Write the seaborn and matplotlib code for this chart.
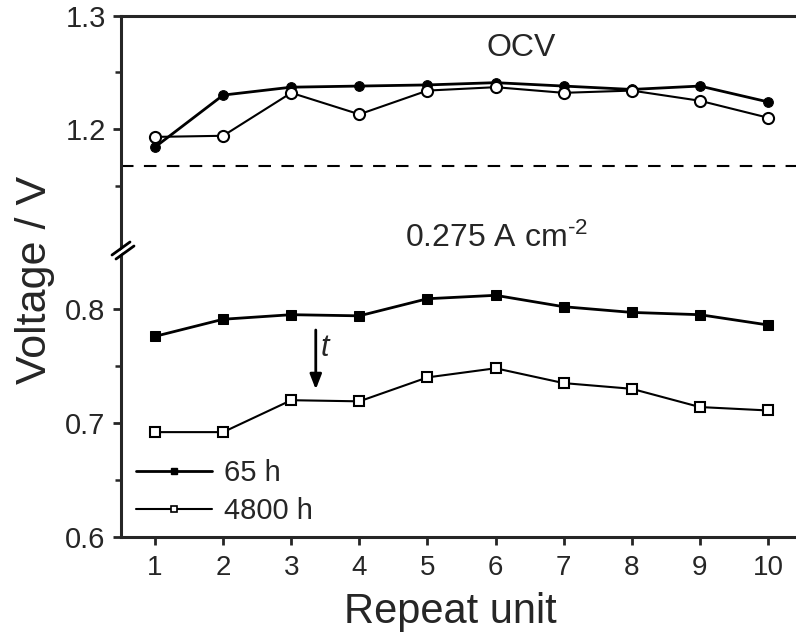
import numpy as np
import pandas as pd
import matplotlib
matplotlib.use('Agg')
import matplotlib.pyplot as plt
from matplotlib.ticker import FixedLocator
from matplotlib.lines import Line2D
from matplotlib.patches import Polygon
import seaborn as sns

units = [1, 2, 3, 4, 5, 6, 7, 8, 9, 10]
ocv_65h = [1.184, 1.230, 1.237, 1.238, 1.239, 1.241, 1.238, 1.235, 1.238, 1.224]
ocv_4800h = [1.193, 1.194, 1.232, 1.213, 1.234, 1.237, 1.232, 1.234, 1.225, 1.210]
v_65h = [0.776, 0.791, 0.795, 0.794, 0.809, 0.812, 0.802, 0.797, 0.795, 0.786]
v_4800h = [0.692, 0.692, 0.720, 0.719, 0.740, 0.748, 0.735, 0.730, 0.714, 0.711]
ocv_ref = 1.167

sns.set_style('ticks')
plt.rcParams['font.family'] = ['Liberation Sans', 'DejaVu Sans']
plt.rcParams['mathtext.default'] = 'regular'

fig = plt.figure(figsize=(7.96, 6.32), dpi=100)
L, W = 121 / 796, 681 / 796
ax_top = fig.add_axes([L, 0.6076, W, 0.9747 - 0.6076])
ax_bot = fig.add_axes([L, 0.1503, W, 0.6076 - 0.1503])

# OCV part
sns.lineplot(x=units, y=ocv_65h, ax=ax_top, color='black', lw=2, marker='o',
             markersize=7, markerfacecolor='black', markeredgecolor='black')
sns.lineplot(x=units, y=ocv_4800h, ax=ax_top, color='black', lw=1.5, marker='o',
             markersize=8, markerfacecolor='white', markeredgecolor='black', markeredgewidth=1.5)
ax_top.axhline(ocv_ref, color='black', lw=1.5, dashes=(6, 5))

# loaded part
sns.lineplot(x=units, y=v_65h, ax=ax_bot, color='black', lw=2, marker='s',
             markersize=7, markerfacecolor='black', markeredgecolor='black')
sns.lineplot(x=units, y=v_4800h, ax=ax_bot, color='black', lw=1.5, marker='s',
             markersize=7, markerfacecolor='white', markeredgecolor='black', markeredgewidth=1.5)

for ax in (ax_top, ax_bot):
    ax.set_xlim(0.5, 10.5)
    ax.spines['right'].set_visible(False)
    for s in ax.spines.values():
        s.set_linewidth(2.2)
    ax.tick_params(axis='both', which='major', direction='out', length=6, width=2,
                   labelsize=21, pad=5)
    ax.tick_params(axis='y', which='minor', direction='out', length=4, width=1.8)
    ax.set_xlabel('')
    ax.set_ylabel('')

ax_top.set_ylim(1.0947, 1.3)
ax_top.set_yticks([1.2, 1.3])
ax_top.yaxis.set_minor_locator(FixedLocator([1.15, 1.25]))
ax_top.spines['bottom'].set_visible(False)
ax_top.tick_params(axis='x', bottom=False, labelbottom=False)

ax_bot.set_ylim(0.6, 0.8535)
ax_bot.set_yticks([0.6, 0.7, 0.8])
ax_bot.yaxis.set_minor_locator(FixedLocator([0.65, 0.75]))
ax_bot.spines['top'].set_visible(False)
ax_bot.set_xticks(units)
ax_bot.tick_params(axis='x', labelsize=20, pad=7)

ax_top.text(6.38, 1.272, 'OCV', fontsize=23, ha='center', va='center')
fig.text(496 / 796, 1 - 247 / 632, '0.275 A cm$^{\u2010 2}$', fontsize=23,
         ha='center', va='baseline')

ax_bot.annotate('', xy=(3.36, 0.727), xytext=(3.36, 0.784),
                arrowprops=dict(arrowstyle='-|>,head_width=0.35,head_length=0.9',
                                color='black', lw=2))
ax_bot.text(3.5, 0.766, 't', fontsize=22, style='italic', ha='center', va='center')

handles = [Line2D([], [], color='black', lw=2, marker='s', markersize=5,
                  markerfacecolor='black', markeredgecolor='black'),
           Line2D([], [], color='black', lw=1.5, marker='s', markersize=5,
                  markerfacecolor='white', markeredgecolor='black', markeredgewidth=1.2)]
ax_bot.legend(handles, ['65 h', '4800 h'], loc='lower left', bbox_to_anchor=(0.005, 0.0),
              frameon=False, fontsize=21, handlelength=2.6, handletextpad=0.4,
              labelspacing=0.35, borderaxespad=0.2, borderpad=0.2)

# axis break mark
pts = [(112, 257), (117, 257), (134, 244), (129, 244)]
poly = Polygon([(x / 796, 1 - y / 632) for x, y in pts], closed=True, transform=fig.transFigure,
               facecolor='white', edgecolor='none', zorder=10)
fig.add_artist(poly)
for (x0, y0), (x1, y1) in [((112, 255), (130, 242)), ((116, 259), (134, 246))]:
    fig.add_artist(Line2D([x0 / 796, x1 / 796], [1 - y0 / 632, 1 - y1 / 632],
                          transform=fig.transFigure, color='black', lw=2, zorder=11))

fig.text(35 / 796, 1 - 280 / 632, 'Voltage / V', rotation=90, fontsize=31,
         ha='center', va='center')
fig.text(450 / 796, 1 - 623 / 632, 'Repeat unit', fontsize=30, ha='center', va='baseline')

fig.savefig('out.png', dpi=100)
